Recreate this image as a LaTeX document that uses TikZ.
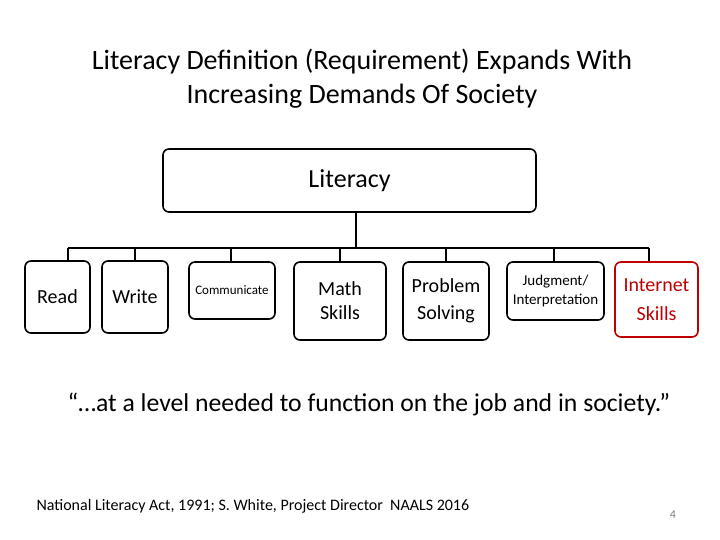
\documentclass[tikz,border=0pt]{standalone}
\usepackage{fontspec}
\setmainfont{Carlito}
\begin{document}
\begin{tikzpicture}[x=1pt,y=-1pt,
  bx/.style={draw,line width=1.6pt,rounded corners=6pt,align=center,inner sep=0pt},
  ln/.style={line width=1.3pt}]
\useasboundingbox (0,0) rectangle (720,540);
\node[align=center,font=\fontsize{28}{34}\selectfont] (title) at (362,79) {Literacy Definition (Requirement) Expands With\\Increasing Demands Of Society};
\node[bx,minimum width=373pt,minimum height=63pt,font=\fontsize{26}{30}\selectfont] (lit) at (349.5,180.5) {Literacy};
\coordinate (bus) at (356,248);
\node[bx,minimum width=65pt,minimum height=72pt,font=\fontsize{20}{24}\selectfont] (read) at (57.5,297) {Read};
\node[bx,minimum width=66pt,minimum height=72pt,font=\fontsize{20}{24}\selectfont] (write) at (135,297) {Write};
\node[bx,minimum width=86pt,minimum height=57pt,font=\fontsize{13}{15}\selectfont] (comm) at (232,290.5) {Communicate};
\node[bx,minimum width=92pt,minimum height=78pt,font=\fontsize{20}{24}\selectfont] (math) at (340,301) {Math\\Skills};
\node[bx,minimum width=86pt,minimum height=78pt,font=\fontsize{20}{27}\selectfont] (prob) at (446,301) {Problem\\Solving};
\node[bx,minimum width=97pt,minimum height=58pt,font=\fontsize{15}{19}\selectfont] (judg) at (555.5,291) {Judgment/\\Interpretation};
\node[bx,draw=red!75!black,text=red!75!black,minimum width=83pt,minimum height=75pt,font=\fontsize{20}{29}\selectfont] (inet) at (656.5,299.5) {Internet\\Skills};
\draw[ln] (lit.south -| bus) -- (bus);
\draw[ln] (68,248) -- (649,248);
\foreach \n/\xx in {read/68,write/135,comm/231,math/340,prob/446,judg/554,inet/649} \draw[ln] (\xx,248) -- (\n.north -| \xx,0);
\node[font=\fontsize{25.7}{30}\selectfont] (quote) at (369,404) {“…at a level needed to function on the job and in society.”};
\node[font=\fontsize{16}{19}\selectfont,anchor=west] (foot) at (33,506) {National Literacy Act, 1991; S. White, Project Director\ \ NAALS 2016};
\node[font=\fontsize{12}{14}\selectfont,text=gray] (pg) at (673,515) {4};
\end{tikzpicture}
\end{document}
